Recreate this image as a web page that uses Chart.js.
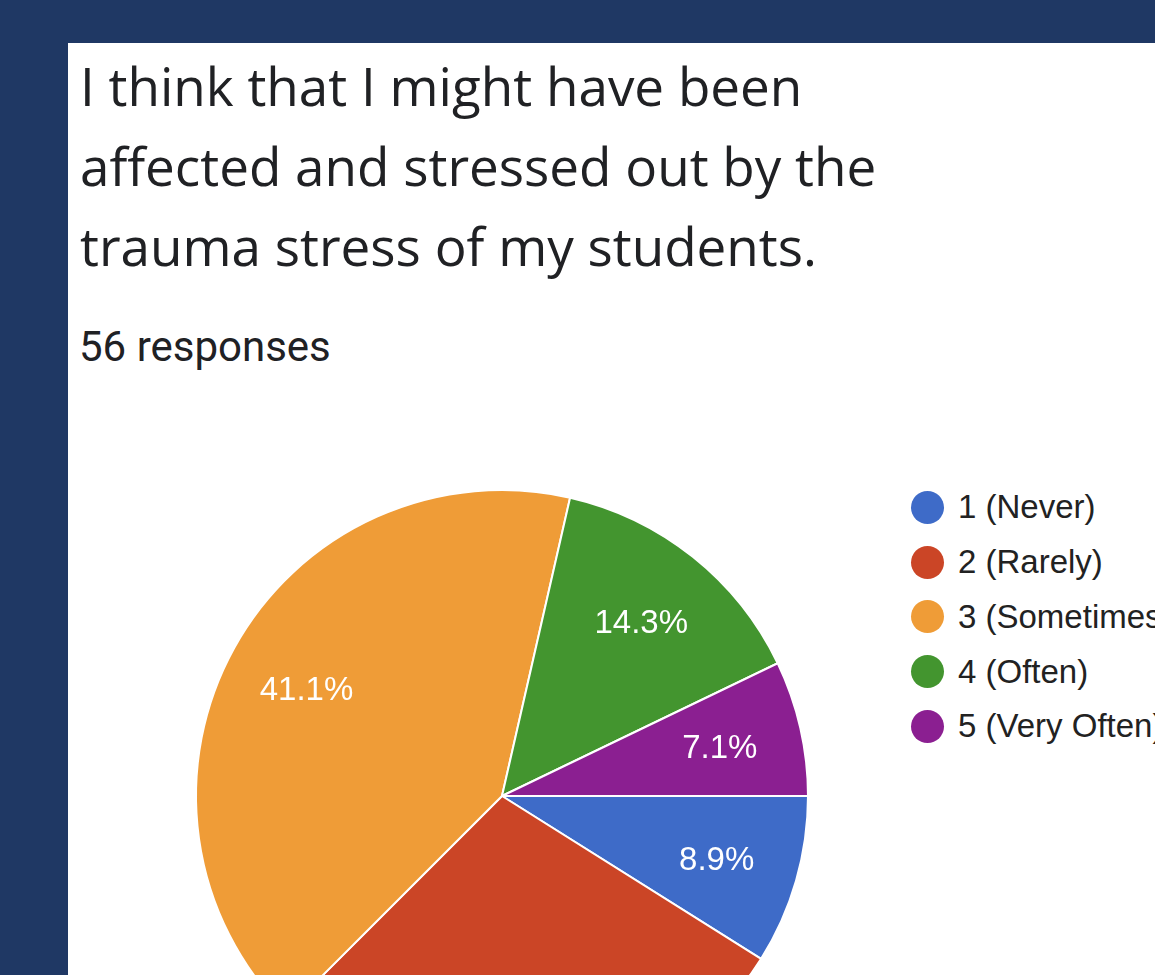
<!DOCTYPE html>
<html>
<head>
<meta charset="utf-8">
<script src="https://cdn.jsdelivr.net/npm/chart.js@4.4.1/dist/chart.umd.min.js"></script>
<style>
  html, body { margin: 0; padding: 0; width: 1155px; height: 975px; overflow: hidden; background: #1f3864; }
  #card { position: absolute; left: 68px; top: 43px; width: 1087px; height: 932px; background: #ffffff; overflow: hidden; }
  .title { position: absolute; left: 12px; font-family: "Open Sans", sans-serif; font-size: 53px; color: #202124; white-space: nowrap; line-height: 1; }
  #responses { position: absolute; left: 11px; top: 283px; font-family: Roboto, sans-serif; font-size: 42px; color: #202124; white-space: nowrap; line-height: 1; }
  #pieBox { position: absolute; left: 84px; top: 403px; width: 700px; height: 700px; }
  #legend { position: absolute; left: 843px; top: 437px; font-family: "Liberation Sans", Arial, sans-serif; font-size: 33px; color: #222222; white-space: nowrap; }
  .row { display: flex; align-items: center; height: 54.75px; }
  .dot { width: 33px; height: 33px; border-radius: 50%; margin-right: 14px; flex: none; }
</style>
</head>
<body>
<div id="card">
  <div class="title" id="t1" style="top: 16px;"></div>
  <div class="title" id="t2" style="top: 96px;"></div>
  <div class="title" id="t3" style="top: 176px;"></div>
  <div id="responses"></div>
  <div id="pieBox"><canvas id="pie"></canvas></div>
  <div id="legend"></div>
</div>
<script>
// Survey question, split over the three lines it wraps to
const titleLines = [
  "I think that I might have been",
  "affected and stressed out by the",
  "trauma stress of my students."
];
const responseCount = 56;

// Answer options and how many respondents chose each
const categories = ["1 (Never)", "2 (Rarely)", "3 (Sometimes)", "4 (Often)", "5 (Very Often)"];
const counts = [5, 16, 23, 8, 4];
const colors = ["#3e6bc8", "#cb4526", "#ef9c37", "#43952f", "#8b1f91"];

document.getElementById("t1").textContent = titleLines[0];
document.getElementById("t2").textContent = titleLines[1];
document.getElementById("t3").textContent = titleLines[2];
document.getElementById("responses").textContent = responseCount + " responses";

// Legend rows
const legend = document.getElementById("legend");
categories.forEach((name, i) => {
  const row = document.createElement("div");
  row.className = "row";
  const dot = document.createElement("span");
  dot.className = "dot";
  dot.style.background = colors[i];
  const label = document.createElement("span");
  label.textContent = name;
  row.appendChild(dot);
  row.appendChild(label);
  legend.appendChild(row);
});

const total = counts.reduce((a, b) => a + b, 0);

// Percentage labels drawn inside each slice
const sliceLabels = {
  id: "sliceLabels",
  afterDatasetsDraw(chart) {
    const ctx = chart.ctx;
    const meta = chart.getDatasetMeta(0);
    ctx.save();
    ctx.fillStyle = "#ffffff";
    ctx.font = '33px "Liberation Sans", Arial, sans-serif';
    ctx.textAlign = "center";
    ctx.textBaseline = "middle";
    meta.data.forEach((arc, i) => {
      const pct = (counts[i] / total * 100).toFixed(1) + "%";
      const mid = (arc.startAngle + arc.endAngle) / 2;
      const r = arc.outerRadius * 0.73;
      ctx.fillText(pct, arc.x + Math.cos(mid) * r, arc.y + Math.sin(mid) * r + 3);
    });
    ctx.restore();
  }
};

new Chart(document.getElementById("pie"), {
  type: "pie",
  data: {
    labels: categories,
    datasets: [{
      data: counts,
      backgroundColor: colors,
      borderColor: "#ffffff",
      borderWidth: 2,
      hoverOffset: 0
    }]
  },
  options: {
    responsive: true,
    maintainAspectRatio: false,
    animation: false,
    rotation: 90,
    radius: 306,
    layout: { padding: 0 },
    plugins: {
      legend: { display: false },
      tooltip: { enabled: false }
    }
  },
  plugins: [sliceLabels]
});
</script>
</body>
</html>
